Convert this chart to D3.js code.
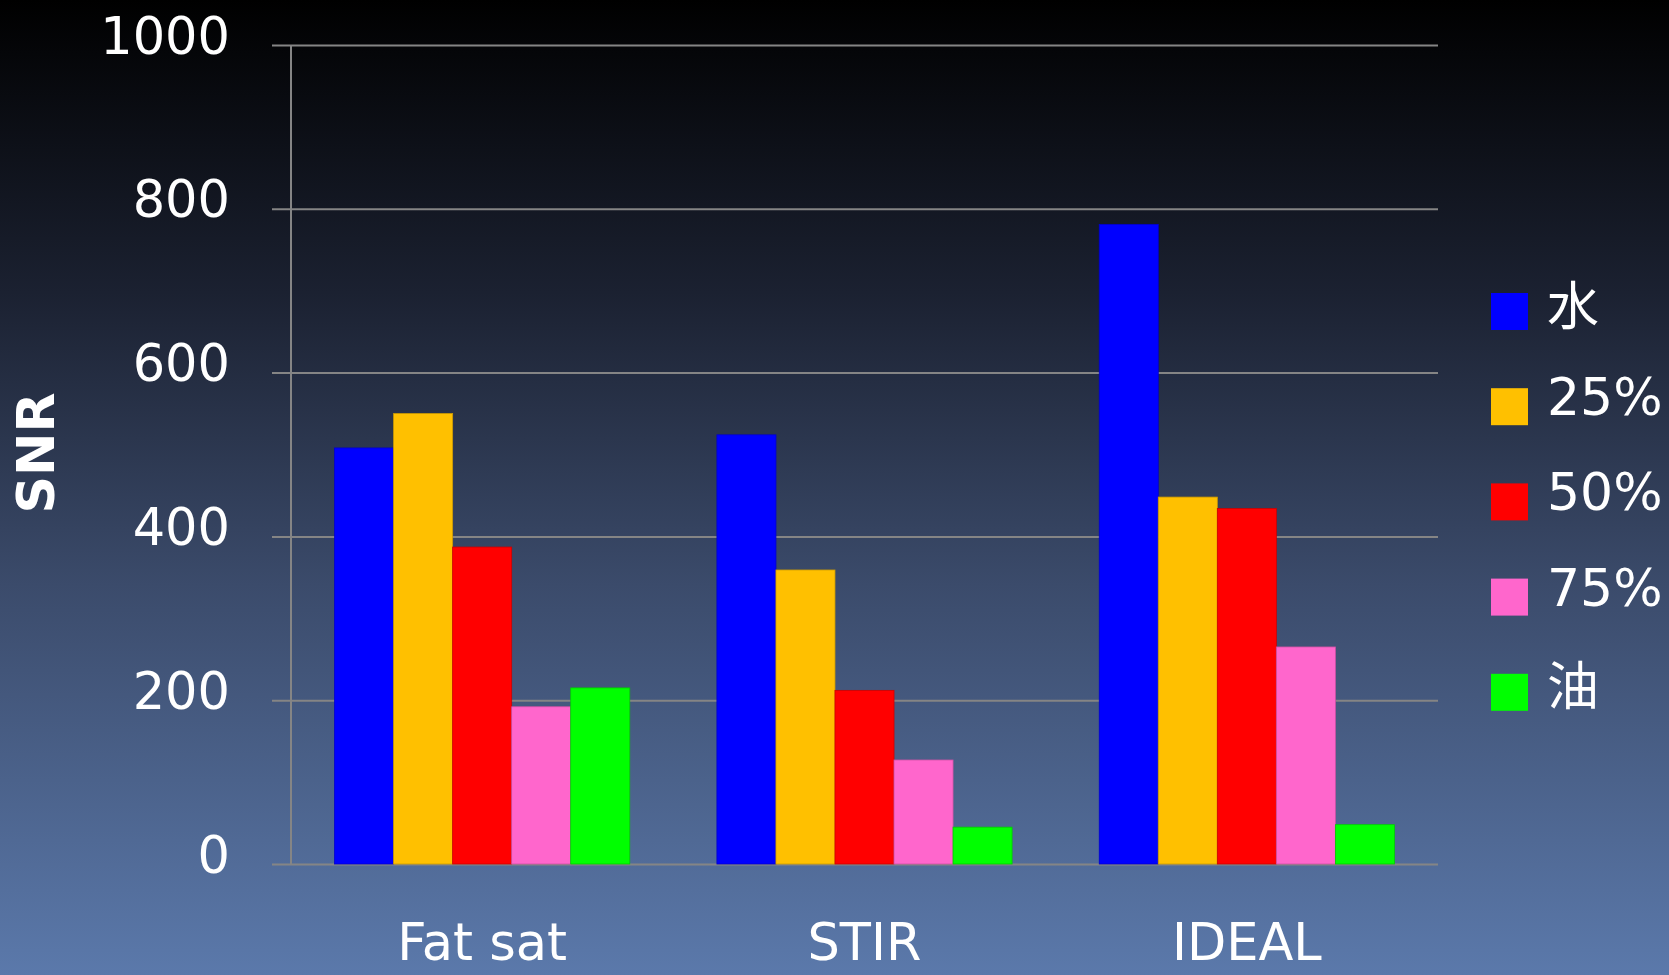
<!DOCTYPE html>
<html>
<head>
<meta charset="utf-8">
<script src="https://cdn.jsdelivr.net/npm/d3@7"></script>
<style>
  html, body { margin: 0; padding: 0; background: #000; }
  svg { display: block; }
  text { font-family: "DejaVu Sans", Verdana, sans-serif; fill: #ffffff; }
</style>
</head>
<body>
<svg id="chart" width="1669" height="975"></svg>
<script>
// Sequences on the x axis
const categories = ["Fat sat", "STIR", "IDEAL"];
// Phantom labels (water, fat fractions, oil)
const seriesNames = ["水", "25%", "50%", "75%", "油"];
const seriesColors = ["#0000ff", "#ffc000", "#ff0000", "#ff66cc", "#00ff00"];
// SNR per series, one entry per sequence
const water = [508, 524, 781];
const fat25 = [550, 359, 448];
const fat50 = [387, 212, 434];
const fat75 = [192, 127, 265];
const oil   = [215, 45, 48];
const yTicks = [0, 200, 400, 600, 800, 1000];

const seriesValues = [water, fat25, fat50, fat75, oil];

const W = 1669, H = 975;
const margin = { left: 291, right: 231, top: 45, bottom: 111 };
const svg = d3.select("#chart");

// background gradient
const defs = svg.append("defs");
const grad = defs.append("linearGradient")
  .attr("id", "bg").attr("x1", 0).attr("y1", 0).attr("x2", 0).attr("y2", 1);
[[0, "#000000"], [0.3, "#1b2131"], [0.6, "#3b4b6b"], [1, "#5b79ab"]].forEach(([o, c]) =>
  grad.append("stop").attr("offset", o).attr("stop-color", c));
svg.append("rect").attr("width", W).attr("height", H).attr("fill", "url(#bg)");

const x0 = d3.scaleBand()
  .domain(categories)
  .range([margin.left, W - margin.right])
  .paddingInner(0.228)
  .paddingOuter(0.114);

const x1 = d3.scaleBand()
  .domain(seriesNames)
  .range([0, x0.bandwidth()]);

const y = d3.scaleLinear()
  .domain([0, 1000])
  .range([H - margin.bottom, margin.top]);

// horizontal gridlines with short outside ticks
const gy = svg.append("g")
  .attr("transform", `translate(${W - margin.right},0)`)
  .call(d3.axisLeft(y).tickValues(yTicks).tickFormat("")
    .tickSize(W - margin.right - margin.left + 19));
gy.select(".domain").remove();
gy.selectAll(".tick line").attr("stroke", "#858585").attr("stroke-width", 2);

// vertical axis line
svg.append("line")
  .attr("x1", margin.left).attr("x2", margin.left)
  .attr("y1", y(1000)).attr("y2", y(0))
  .attr("stroke", "#858585").attr("stroke-width", 2);

// tick labels
svg.append("g").selectAll("text")
  .data(yTicks)
  .join("text")
  .attr("x", 230)
  .attr("y", d => y(d) - 9)
  .attr("text-anchor", "end")
  .attr("dominant-baseline", "central")
  .attr("font-size", 51)
  .text(d => d);

// bars
const groups = svg.append("g").selectAll("g")
  .data(categories)
  .join("g")
  .attr("transform", d => `translate(${x0(d)},0)`);

groups.selectAll("rect")
  .data((c, ci) => seriesValues.map((vals, si) => ({ s: seriesNames[si], v: vals[ci], color: seriesColors[si] })))
  .join("rect")
  .attr("x", d => x1(d.s))
  .attr("width", x1.bandwidth())
  .attr("y", d => y(d.v))
  .attr("height", d => y(0) - y(d.v))
  .attr("fill", d => d.color)
  .attr("stroke", d => d3.color(d.color).darker(0.6))
  .attr("stroke-width", 0.8);

// category labels
svg.append("g").selectAll("text")
  .data(categories)
  .join("text")
  .attr("x", d => x0(d) + x0.bandwidth() / 2)
  .attr("y", 960)
  .attr("text-anchor", "middle")
  .attr("font-size", 51)
  .text(d => d);

// y axis title
svg.append("text")
  .attr("transform", "translate(36,453) rotate(-90)")
  .attr("text-anchor", "middle")
  .attr("dominant-baseline", "central")
  .attr("font-size", 52)
  .attr("font-weight", "bold")
  .text("SNR");

// legend
const legend = svg.append("g").selectAll("g")
  .data(seriesNames)
  .join("g")
  .attr("transform", (d, i) => `translate(1491,${293 + i * 95.2})`);
legend.append("rect")
  .attr("width", 37).attr("height", 37)
  .attr("fill", (d, i) => seriesColors[i]);
legend.append("text")
  .attr("x", 56)
  .attr("y", 9)
  .attr("dominant-baseline", "central")
  .attr("font-size", 52)
  .style("font-family", (d) => /[^\x00-\x7f]/.test(d) ? "'Noto Sans CJK JP', sans-serif" : null)
  .text(d => d);
</script>
</body>
</html>
